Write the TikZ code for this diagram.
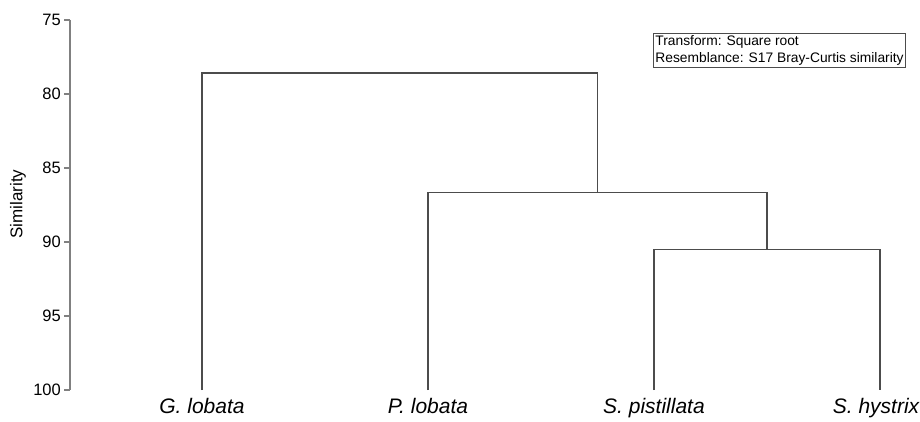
\documentclass[tikz,border=0pt]{standalone}
\usepackage{fontspec}
\setmainfont{Liberation Sans}
\usepackage{tikz}
\usetikzlibrary{calc,positioning}
\tikzstyle{branch}=[draw=black!70, line width=1.2pt]
\tikzstyle{axis}  =[draw=black!50, line width=1.2pt]
\tikzstyle{leaf}  =[inner sep=0pt, outer sep=0pt, minimum size=0pt]
\tikzstyle{taxon} =[anchor=base, inner sep=0pt,
                    font=\fontsize{21}{25}\selectfont\itshape]
\tikzstyle{tick}  =[anchor=east, inner sep=1pt,
                    font=\fontsize{16.5}{20}\selectfont]

\begin{document}
\begin{tikzpicture}[x=1pt, y=-1pt,
    declare function={sy(\v)=20+14.8*(\v-75);}]
        \useasboundingbox (0,0) rectangle (920,422);

        % similarity axis
        \draw [axis] (70,{sy(75)}) -- (70,{sy(100)});
        \foreach \v in {75,80,...,100}
        {
            \draw [axis] (64,{sy(\v)}) -- (70,{sy(\v)});
            \node (t\v) [tick] at (62,{sy(\v)}) {\v};
        }
        \node (ylab) [rotate=90, font=\fontsize{17}{20}\selectfont]
            at (18,204) {Similarity};

        % leaves
        \draw (202,{sy(100)}) node (gl) [leaf] {};
        \draw (428,{sy(100)}) node (pl) [leaf] {};
        \draw (654,{sy(100)}) node (sp) [leaf] {};
        \draw (880,{sy(100)}) node (sh) [leaf] {};

        \node (lgl) [taxon] at (202,413) {G. lobata};
        \node (lpl) [taxon] at (428,413) {P. lobata};
        \node (lsp) [taxon] at (654,413) {S. pistillata};
        \node (lsh) [taxon] at (876,413) {S. hystrix};

        % merges
        \draw (767,{sy(90.5)}) node (m1) [leaf] {};
        \draw (597.75,{sy(86.67)}) node (m2) [leaf] {};
        \draw (400,{sy(78.58)}) node (m3) [leaf] {};

        \draw [branch] (sp) |- (m1) -| (sh);
        \draw [branch] (pl) |- (m2) -| (m1);
        \draw [branch] (gl) |- (m3) -| (m2);

        % legend
        \node (key) [draw=black!70, line width=0.8pt, anchor=north west,
            align=left, inner sep=2pt, font=\fontsize{13.8}{17}\selectfont]
            at (653,33) {Transform: Square root\\Resemblance: S17 Bray-Curtis similarity};

    \end{tikzpicture}
\end{document}
